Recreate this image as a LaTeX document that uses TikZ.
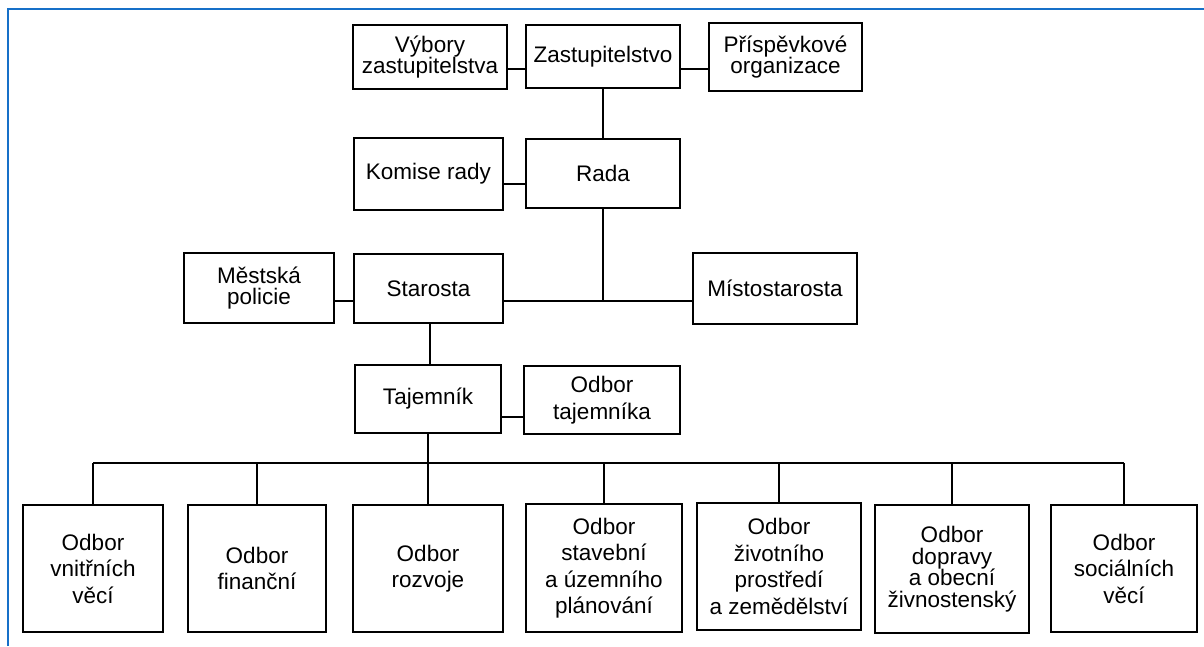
\documentclass[tikz,border=0pt]{standalone}
\usepackage{fontspec}
\setmainfont{Liberation Sans}
\usepackage{tikz}
\usetikzlibrary{calc}
\definecolor{frameblue}{RGB}{22,112,200}
\tikzset{box/.style 2 args={draw, line width=1.8pt, inner sep=0pt, align=center,
    minimum width=#1pt, minimum height=#2pt, font=\fontsize{22.5}{26.5}\selectfont}}
\tikzset{tight/.style={font=\fontsize{22.5}{21.5}\selectfont}}
\tikzset{ln/.style={line width=1.8pt}}
\tikzset{lt/.style={line width=1.4pt}}

\begin{document}
\begin{tikzpicture}[x=1pt, y=-1pt]
  \useasboundingbox (0,0) rectangle (1204,646);
  \draw[frameblue, line width=2pt] (8,646) -- (8,9) -- (1204,9);

  % zastupitelstvo a rada
  \node[box={154}{63}] (zast) at (603,56.5) {Zastupitelstvo};
  \node[box={154}{64}, tight] (vybory) at (430,57) {Výbory\\zastupitelstva};
  \node[box={153}{68}, tight] (prisp) at (785.5,57) {Příspěvkové\\organizace};
  \node[box={154}{69}] (rada) at (603,173.5) {Rada}
    edge [ln] (zast);
  \node[box={149}{72}] (komise) at (428.5,174) {Komise rady};
  \draw[ln] (vybory.east |- 0,69) -- (zast.west |- 0,69);
  \draw[ln] (zast.east |- 0,69) -- (prisp.west |- 0,69);
  \draw[ln] (komise.east |- 0,184) -- (rada.west |- 0,184);

  % starosta
  \node[box={149}{69}] (starosta) at (428.5,288.5) {Starosta};
  \node[box={150}{70}, tight] (policie) at (259,288) {Městská\\policie};
  \node[box={164}{71}] (misto) at (775,288.5) {Místostarosta};
  \coordinate (j1) at (603,301);
  \draw[lt] (j1 |- rada.south) -- (j1);
  \draw[ln] (starosta.east |- j1) -- (misto.west |- j1);
  \draw[ln] (policie.east |- j1) -- (starosta.west |- j1);

  % tajemnik
  \node[box={146}{68}] (tajemnik) at (428,399) {Tajemník};
  \node[box={156}{68}] (odbtaj) at (602,400) {Odbor\\tajemníka};
  \draw[ln] (430,0 |- starosta.south) -- (430,0 |- tajemnik.north);
  \draw[ln] (tajemnik.east |- 0,417) -- (odbtaj.west |- 0,417);

  % odbory
  \node[box={140}{127}] (b1) at (93,568.5) {Odbor\\vnitřních\\věcí};
  \node[box={138}{127}] (b2) at (257,568.5) {Odbor\\finanční};
  \node[box={150}{127}] (b3) at (428,568.5) {Odbor\\rozvoje};
  \node[box={156}{128}] (b4) at (604,568) {Odbor\\stavební\\a územního\\plánování};
  \node[box={164}{127}] (b5) at (779,566.5) {Odbor\\životního\\prostředí\\a zemědělství};
  \node[box={154}{128}, tight] (b6) at (952,569) {Odbor\\dopravy\\a obecní\\živnostenský};
  \node[box={146}{127}] (b7) at (1124,568.5) {Odbor\\sociálních\\věcí};
  \coordinate (bus) at (428,463);
  \draw[lt] (tajemnik.south) -- (tajemnik.south |- bus);
  \draw[ln] (b1.north |- bus) -- (b7.north |- bus);
  \foreach \b in {b1,b2,b3,b4,b5,b6,b7}
    \draw[ln] (\b.north) -- (\b.north |- bus);
\end{tikzpicture}
\end{document}
